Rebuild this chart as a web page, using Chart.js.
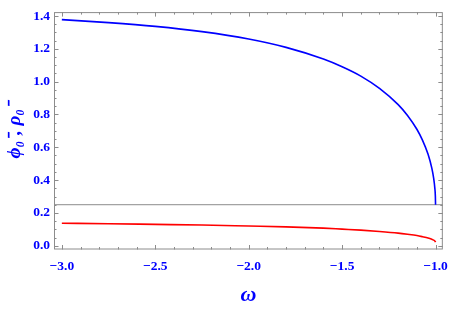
<!DOCTYPE html>
<html>
<head>
<meta charset="UTF-8">
<title>phi0, rho0 vs omega</title>
<script src="https://cdn.jsdelivr.net/npm/chart.js"></script>
<style>
    html, body { margin: 0; padding: 0; background: #fff; }
    #wrap { width: 457px; height: 311px; }
</style>
</head>
<body>
<div id="wrap"><canvas id="grafico"></canvas></div>
<script>
    // valores
    const omega = [-3.0, -2.75, -2.5, -2.25, -2.0, -1.8, -1.6, -1.5, -1.4, -1.3, -1.2, -1.15, -1.1, -1.07, -1.04, -1.02, -1.01, -1.004, -1.001, -1.0];
    const phiMenos = [1.378, 1.360, 1.337, 1.305, 1.260, 1.209, 1.138, 1.091, 1.034, 0.959, 0.860, 0.794, 0.710, 0.644, 0.557, 0.473, 0.411, 0.353, 0.302, 0.25];
    const rhoMenos = [0.137, 0.134, 0.130, 0.126, 0.120, 0.115, 0.107, 0.101, 0.095, 0.087, 0.077, 0.070, 0.062, 0.055, 0.047, 0.039, 0.034, 0.029, 0.025, 0.022];
    const nivel = 0.25;   // linea horizontal gris
    const xTicks = [-3.0, -2.5, -2.0, -1.5, -1.0];
    const yTicks = [0.0, 0.2, 0.4, 0.6, 0.8, 1.0, 1.2, 1.4];
    const xMin = -3.042, xMax = -0.961;
    const yMin = -0.023, yMax = 1.424;

    const gris = '#8c8c8c';
    const azul = '#0000ff';

    const puntos = (xs, ys) => xs.map((x, i) => ({ x: x, y: ys[i] }));

    // marco estilo Mathematica con marcas hacia dentro
    const marco = {
        id: 'marco',
        afterDatasetsDraw(chart) {
            const { ctx, chartArea: a, scales: { x, y } } = chart;
            ctx.save();
            ctx.strokeStyle = gris;
            ctx.lineWidth = 1;
            ctx.strokeRect(a.left + 0.5, a.top + 0.5, a.right - a.left - 1, a.bottom - a.top - 1);
            ctx.beginPath();
            for (let i = -30; i <= -10; i++) {
                const v = i / 10;
                const px = Math.round(x.getPixelForValue(v)) + 0.5;
                const len = (i % 5 === 0) ? 4.5 : 2.5;
                ctx.moveTo(px, a.bottom); ctx.lineTo(px, a.bottom - len);
                ctx.moveTo(px, a.top); ctx.lineTo(px, a.top + len);
            }
            for (let i = 0; i <= 28; i++) {
                const v = i * 0.05;
                const py = Math.round(y.getPixelForValue(v)) + 0.5;
                const len = (i % 4 === 0) ? 4.5 : 2.5;
                ctx.moveTo(a.left, py); ctx.lineTo(a.left + len, py);
                ctx.moveTo(a.right, py); ctx.lineTo(a.right - len, py);
            }
            ctx.stroke();
            ctx.restore();
        }
    };

    const menos = v => v.toFixed(1).replace('-', '\u2212');
    const fuenteTicks = { family: 'Liberation Serif', size: 13.5, weight: 'bold' };

    new Chart(document.getElementById('grafico'), {
        type: 'scatter',
        data: {
            datasets: [
                {
                    data: puntos(omega, phiMenos),
                    showLine: true,
                    borderColor: azul,
                    borderWidth: 1.6,
                    pointRadius: 0,
                    cubicInterpolationMode: 'monotone'
                },
                {
                    data: puntos(omega, rhoMenos),
                    showLine: true,
                    borderColor: '#ff0000',
                    borderWidth: 1.6,
                    pointRadius: 0,
                    cubicInterpolationMode: 'monotone'
                },
                {
                    data: [{ x: xMin, y: nivel }, { x: xMax, y: nivel }],
                    showLine: true,
                    borderColor: gris,
                    borderWidth: 1,
                    pointRadius: 0
                }
            ]
        },
        options: {
            responsive: true,
            maintainAspectRatio: false,
            animation: false,
            events: [],
            layout: { padding: { top: 6, right: 9, left: 0, bottom: 0 } },
            plugins: { legend: { display: false }, tooltip: { enabled: false } },
            scales: {
                x: {
                    type: 'linear',
                    min: xMin,
                    max: xMax,
                    afterBuildTicks: s => { s.ticks = xTicks.map(v => ({ value: v })); },
                    afterFit: s => { s.height = 61.5; },
                    grid: { display: false, drawTicks: false, tickLength: 0 },
                    border: { display: false },
                    ticks: {
                        padding: 9,
                        color: azul,
                        font: fuenteTicks,
                        callback: v => menos(v)
                    },
                    title: {
                        display: true,
                        text: 'ω',
                        color: azul,
                        padding: { top: 0, bottom: 2 },
                        font: { family: 'Liberation Serif', size: 22, style: 'italic', weight: 'bold' }
                    }
                },
                y: {
                    type: 'linear',
                    min: yMin,
                    max: yMax,
                    afterBuildTicks: s => { s.ticks = yTicks.map(v => ({ value: v })); },
                    afterFit: s => { s.width = 54; },
                    grid: { display: false, drawTicks: false, tickLength: 0 },
                    border: { display: false },
                    ticks: {
                        padding: 4,
                        color: azul,
                        font: fuenteTicks,
                        callback: v => menos(v)
                    },
                    title: {
                        display: true,
                        text: 'ϕ₀⁻, ρ₀⁻',
                        color: azul,
                        padding: { top: 4, bottom: 0 },
                        font: { family: 'Liberation Serif', size: 19, style: 'italic', weight: 'bold' }
                    }
                }
            }
        },
        plugins: [marco]
    });
</script>
</body>
</html>
